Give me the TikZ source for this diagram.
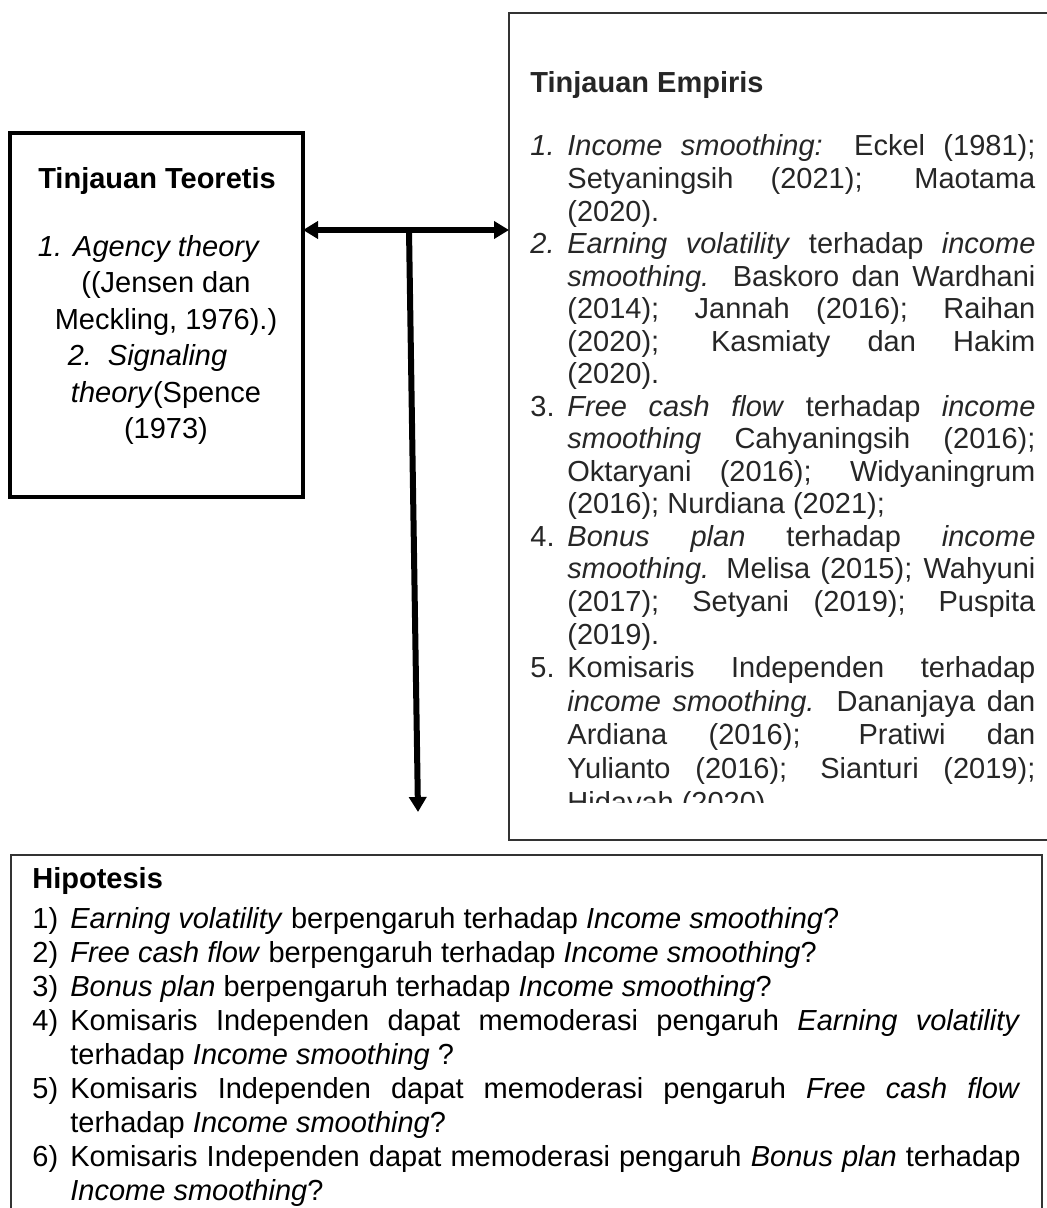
\documentclass[tikz,border=0pt]{standalone}
\usepackage{fontspec}
\setmainfont{Liberation Sans}
\usetikzlibrary{arrows.meta}

\tolerance=10000
\hbadness=10000
\hyphenpenalty=10000
\newcommand{\listitem}[2]{\par\noindent\hangindent=#1\hangafter=1\makebox[#1][l]{#2}}

\begin{document}
\begin{tikzpicture}[x=0.5pt,y=-0.5pt,>={Triangle[length=7.5pt,width=8.5pt]},
  frame/.style={draw,inner sep=0pt,outer sep=0pt,anchor=north west},
  body/.style={inner sep=0pt,anchor=north west,align=justify,
    font=\fontsize{14.5pt}{16.27pt}\selectfont},
  link/.style={line width=3pt}]
  \useasboundingbox (0,0) rectangle (1046,1208);

  % the three boxes
  \node[frame,line width=2pt,minimum width=146.5pt,minimum height=182pt] (teori) at (10,133) {};
  \node[frame,draw=black!80,line width=0.8pt,minimum width=272pt,minimum height=413.5pt] (empiris) at (509,13) {};
  \node[frame,draw=black!80,line width=0.8pt,minimum width=515.5pt,minimum height=185pt] (hipotesis) at (11,855) {};

  \node[font=\fontsize{14.5pt}{17pt}\selectfont\bfseries,anchor=base] (teori title) at (157,189) {Tinjauan Teoretis};
  \node[font=\fontsize{14.5pt}{18.2pt}\selectfont,align=center,anchor=north,inner sep=0pt] (teori text) at (166,235)
    {\textit{1.}\hspace{5.5pt}\textit{Agency theory}\kern17pt\\
     ((Jensen dan\\
     Meckling, 1976).)\\
     \textit{2.}\hspace{8pt}\textit{Signaling}\kern18.5pt\\
     \textit{theory}(Spence\\
     (1973)};

  \node[font=\fontsize{14.5pt}{17pt}\selectfont\bfseries,text=black!85,anchor=base west,inner sep=0pt] (empiris title) at (530,93) {Tinjauan Empiris};
  \begin{scope}
    \clip (empiris.north west) rectangle ([yshift=19pt]empiris.south east);
    \node[body,text width=252.5pt,text=black!85] (empiris text) at (530,123) {%
      \listitem{18.5pt}{\textit{1.}}\textit{Income smoothing:} Eckel (1981);\linebreak Setyaningsih (2021); Maotama\linebreak (2020).
      \listitem{18.5pt}{\textit{2.}}\textit{Earning volatility} terhadap \textit{income}\linebreak \textit{smoothing.} Baskoro dan Wardhani\linebreak (2014); Jannah (2016); Raihan\linebreak (2020); Kasmiaty dan Hakim\linebreak (2020).
      \listitem{18.5pt}{3.}\textit{Free cash flow} terhadap \textit{income}\linebreak \textit{smoothing} Cahyaningsih (2016);\linebreak Oktaryani (2016); Widyaningrum\linebreak (2016); Nurdiana (2021);
      \listitem{18.5pt}{4.}\textit{Bonus plan} terhadap \textit{income}\linebreak \textit{smoothing.} Melisa (2015); Wahyuni\linebreak (2017); Setyani (2019); Puspita\linebreak (2019).
      \par\fontsize{14.5pt}{16.8pt}\selectfont
      \listitem{18.5pt}{5.}Komisaris Independen terhadap\linebreak \textit{income smoothing.} Dananjaya dan\linebreak Ardiana (2016); Pratiwi dan\linebreak Yulianto (2016); Sianturi (2019);\linebreak Hidayah (2020)\par};
  \end{scope}

  \node[body,text width=494pt,font=\fontsize{14.5pt}{17pt}\selectfont] (hipotesis text) at (32,867) {%
    \noindent\textbf{Hipotesis}\par\vspace{3pt}
    \listitem{19pt}{1)}\textit{Earning volatility} berpengaruh terhadap \textit{Income smoothing}?
    \listitem{19pt}{2)}\textit{Free cash flow} berpengaruh terhadap \textit{Income smoothing}?
    \listitem{19pt}{3)}\textit{Bonus plan} berpengaruh terhadap \textit{Income smoothing}?
    \listitem{19pt}{4)}Komisaris Independen dapat memoderasi pengaruh \textit{Earning volatility}\linebreak terhadap \textit{Income smoothing} ?
    \listitem{19pt}{5)}Komisaris Independen dapat memoderasi pengaruh \textit{Free cash flow}\linebreak terhadap \textit{Income smoothing}?
    \listitem{19pt}{6)}Komisaris Independen dapat memoderasi pengaruh \textit{Bonus plan} terhadap\linebreak \textit{Income smoothing}?\par};

  % connectors
  \coordinate (tee) at (409,230);
  \coordinate (down end) at (418,812);
  \draw[link,<->] (teori.east |- tee) -- (empiris.west |- tee);
  \draw[link,->] (tee) -- (down end);
\end{tikzpicture}
\end{document}
